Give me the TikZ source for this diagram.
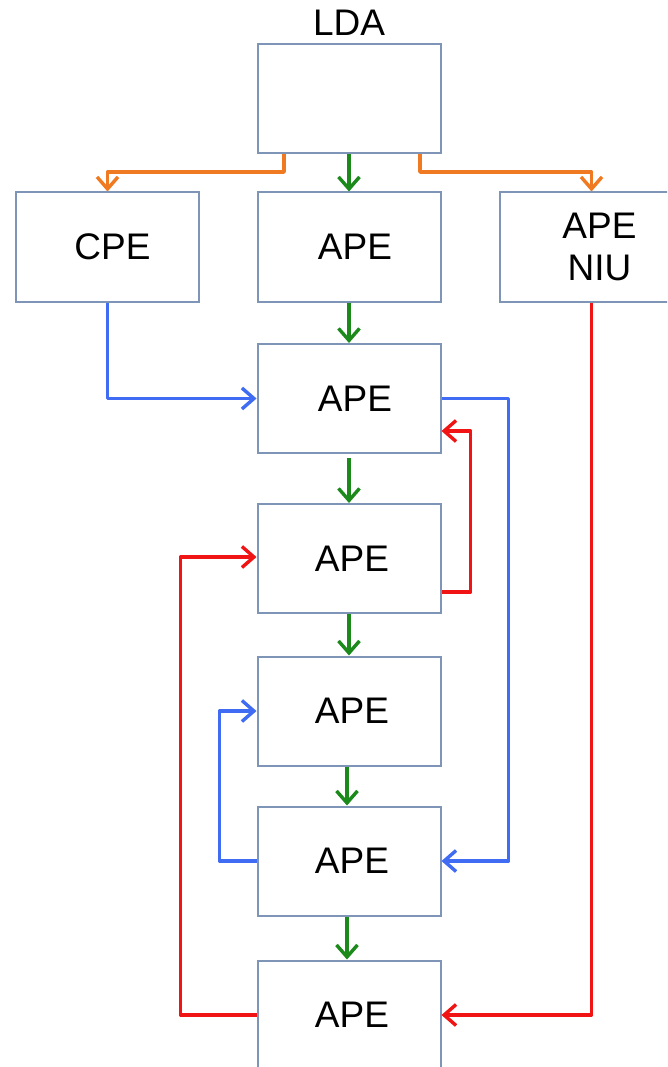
\documentclass[tikz,border=0pt]{standalone}
\usepackage{fontspec}
\setmainfont{Liberation Sans}
\usetikzlibrary{arrows.meta,calc}
\definecolor{boxline}{HTML}{7F95B8}
\definecolor{corange}{HTML}{F07A22}
\definecolor{cgreen}{HTML}{1B8A1B}
\definecolor{cblue}{HTML}{3F6CF2}
\definecolor{cred}{HTML}{F01414}
\tikzset{
  pe/.style={draw=boxline, line width=2pt, fill=white, minimum width=183pt,
    minimum height=109pt, inner sep=0pt, align=center,
    font=\fontsize{37}{42}\selectfont},
  conn/.style={line width=3.6pt, line join=round,
    -{Straight Barb[length=12pt,width=21pt,line width=3.4pt]}},
}
\begin{document}
\begin{tikzpicture}[x=1pt,y=-1pt]
  \useasboundingbox (0,0) rectangle (667,1067);
  \clip (0,0) rectangle (667,1067);
  \fill[white] (0,0) rectangle (667,1067);

  % processing elements
  \node[pe] (lda)  at (349,98.5) {};
  \node[font=\fontsize{37}{42}\selectfont] (ldalabel) at (349,23) {LDA};
  \node[pe] (cpe)  at (107.5,247) {\hspace*{10pt}CPE};
  \node[pe] (ape1) at (349,247)   {\hspace*{12pt}APE};
  \node[pe, execute at begin node={\baselineskip=42pt}] (niu) at (591.5,247) {\hspace*{16pt}APE\\\hspace*{16pt}NIU};
  \node[pe] (ape2) at (349,398.5) {\hspace*{12pt}APE};
  \node[pe] (ape3) at (349,558.5) {\hspace*{6pt}APE};
  \node[pe] (ape4) at (349,711)   {\hspace*{6pt}APE};
  \node[pe] (ape5) at (349,861)   {\hspace*{6pt}APE};
  \node[pe] (ape6) at (349,1015)  {\hspace*{6pt}APE};

  % LDA fan-out
  \draw[conn, corange] ($(lda.south)+(-65,0)$) -- ++(0,18) -| (cpe.north);
  \draw[conn, corange] ($(lda.south)+(71,0)$) -- ++(0,18) -| (niu.north);

  % main chain
  \draw[conn, cgreen] (lda) -- (ape1);
  \draw[conn, cgreen] (ape1) -- (ape2);
  \draw[conn, cgreen] (ape2.south) ++(0,4) -- (ape3.north);
  \draw[conn, cgreen] (ape3) -- (ape4);
  \draw[conn, cgreen] ($(ape4.south)+(-2,0)$) -- ($(ape5.north)+(-2,0)$);
  \draw[conn, cgreen] ($(ape5.south)+(-2,0)$) -- ($(ape6.north)+(-2,0)$);

  % blue links
  \draw[conn, cblue] (cpe.south) |- (ape2.west);
  \draw[conn, cblue] (ape2.east) -- ++(67,0) |- (ape5.east);
  \draw[conn, cblue] (ape5.west) -- ++(-37,0) |- (ape4.west);

  % red links
  \draw[conn, cred] ($(ape3.east)+(0,33.5)$) -- ++(29,0) |- ($(ape2.east)+(0,32.5)$);
  \draw[conn, cred] (ape6.west) -- ++(-76,0) |- ($(ape3.west)+(0,-1.5)$);
  \draw[conn, cred] (niu.south) |- (ape6.east);
\end{tikzpicture}
\end{document}
